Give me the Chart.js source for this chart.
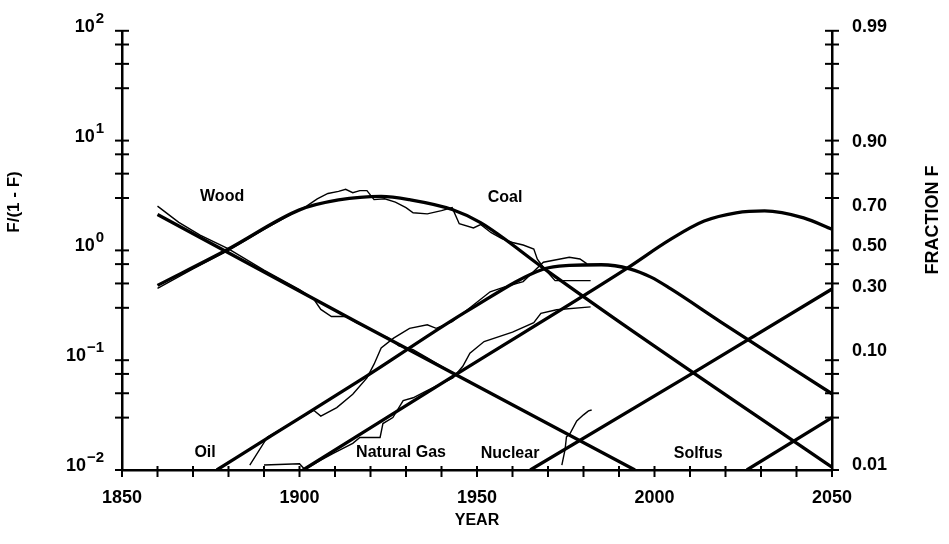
<!DOCTYPE html>
<html>
<head>
<meta charset="utf-8">
<script src="https://cdn.jsdelivr.net/npm/chart.js@4.4.1/dist/chart.umd.min.js"></script>
<style>
  html, body { margin: 0; padding: 0; background: #fff; }
</style>
</head>
<body>
<canvas id="trendChart" width="949" height="544"></canvas>
<script>
// fitted substitution curves (thick lines)
const woodFitYears = [1860, 1916, 1994.5];
const woodFitValues = [2.12, 0.224, 0.010];

const coalFitYears = [1860, 1880, 1900, 1911, 1923, 1931, 1943, 1951, 1969, 1990, 2050];
const coalFitValues = [0.48, 1.03, 2.34, 2.88, 3.11, 2.90, 2.36, 1.79, 0.68, 0.225, 0.0106];

const oilFitYears = [1876.7, 1893, 1919, 1948, 1969, 1976, 1985, 1993, 1999, 2004.5, 2018.5, 2050];
const oilFitValues = [0.01, 0.0214, 0.072, 0.29, 0.68, 0.73, 0.74, 0.68, 0.571, 0.448, 0.225, 0.0494];

const gasFitYears = [1901, 1944, 1992, 2004.5, 2014, 2023, 2031, 2042, 2050];
const gasFitValues = [0.01, 0.074, 0.679, 1.26, 1.85, 2.20, 2.29, 1.98, 1.56];

const nuclearFitYears = [1965, 2011, 2050];
const nuclearFitValues = [0.01, 0.077, 0.445];

const solfusFitYears = [2026, 2050];
const solfusFitValues = [0.01, 0.030];

// historical data (thin lines)
const woodDataYears = [1860, 1866, 1872, 1880, 1890, 1900, 1904, 1906, 1909, 1913, 1916, 1920, 1925, 1928, 1932, 1936, 1940, 1944, 1948];
const woodDataValues = [2.53, 1.80, 1.38, 1.03, 0.66, 0.44, 0.36, 0.29, 0.25, 0.25, 0.22, 0.19, 0.16, 0.135, 0.125, 0.105, 0.088, 0.074, 0.064];

const coalDataYears = [1860, 1870, 1880, 1890, 1900, 1902, 1905, 1908, 1911, 1913, 1915, 1917, 1919, 1921, 1924, 1927, 1930, 1932, 1936, 1940, 1943, 1945, 1949, 1951, 1954, 1957, 1960, 1963, 1966, 1967, 1969, 1972, 1982];
const coalDataValues = [0.45, 0.68, 1.0, 1.55, 2.35, 2.53, 2.95, 3.3, 3.45, 3.6, 3.35, 3.5, 3.5, 2.9, 2.95, 2.75, 2.45, 2.2, 2.15, 2.3, 2.45, 1.75, 1.6, 1.72, 1.45, 1.28, 1.18, 1.12, 1.03, 0.83, 0.68, 0.53, 0.53];

const oilDataYears = [1886, 1891, 1898, 1904, 1906, 1910.5, 1915, 1919, 1921, 1923, 1926.5, 1931, 1936, 1938.5, 1943, 1948, 1953.7, 1957.4, 1963, 1968.7, 1976, 1979, 1981];
const oilDataValues = [0.0111, 0.020, 0.027, 0.035, 0.031, 0.037, 0.049, 0.069, 0.092, 0.129, 0.159, 0.195, 0.21, 0.195, 0.225, 0.30, 0.42, 0.46, 0.52, 0.78, 0.865, 0.835, 0.753];

const gasDataYears = [1890, 1900, 1901.5, 1906, 1909.5, 1915, 1917, 1922.7, 1923.5, 1926.3, 1929.2, 1932, 1935.8, 1943.2, 1946, 1948, 1952, 1960, 1966, 1968, 1972.4, 1982];
const gasDataValues = [0.0111, 0.0114, 0.0101, 0.0123, 0.0142, 0.0175, 0.0198, 0.0198, 0.0265, 0.030, 0.0428, 0.0455, 0.0526, 0.069, 0.088, 0.116, 0.148, 0.18, 0.22, 0.267, 0.288, 0.306];

const nuclearDataYears = [1973.9, 1974.8, 1975.2, 1976.2, 1978.1, 1980, 1981.4, 1982.3];
const nuclearDataValues = [0.0111, 0.0153, 0.020, 0.0215, 0.028, 0.0318, 0.0345, 0.0352];

// axes
const yTickValues = [100, 75, 50, 30, 10, 7.5, 5, 3, 1, 0.75, 0.5, 0.3, 0.1, 0.075, 0.05, 0.03, 0.01];
const fractionLabels = [0.01, 0.10, 0.30, 0.50, 0.70, 0.90, 0.99];

// curve names, anchored in data units (year, F/(1-F))
const curveNames = [
    { text: 'Wood', year: 1878.2, value: 3.06 },
    { text: 'Coal', year: 1957.9, value: 3.0 },
    { text: 'Oil', year: 1873.4, value: 0.0145 },
    { text: 'Natural Gas', year: 1928.6, value: 0.0145 },
    { text: 'Nuclear', year: 1959.3, value: 0.0142 },
    { text: 'Solfus', year: 2012.3, value: 0.0142 }
];

const FONT = '"Liberation Sans", Arial, Helvetica, sans-serif';

function pts(xs, ys) {
    return xs.map((x, i) => ({ x: x, y: ys[i] }));
}

function fitSet(label, xs, ys, curved) {
    return {
        label: label,
        data: pts(xs, ys),
        borderColor: '#000',
        borderWidth: 3.3,
        pointRadius: 0,
        fill: false,
        tension: 0,
        cubicInterpolationMode: curved ? 'monotone' : 'default'
    };
}

function dataSet(label, xs, ys) {
    return {
        label: label,
        data: pts(xs, ys),
        borderColor: '#000',
        borderWidth: 1.4,
        pointRadius: 0,
        fill: false,
        tension: 0
    };
}

const sets = [
    fitSet('Wood', woodFitYears, woodFitValues, false),
    fitSet('Coal', coalFitYears, coalFitValues, true),
    fitSet('Oil', oilFitYears, oilFitValues, true),
    fitSet('Natural Gas', gasFitYears, gasFitValues, true),
    fitSet('Nuclear', nuclearFitYears, nuclearFitValues, false),
    fitSet('Solfus', solfusFitYears, solfusFitValues, false),
    dataSet('Wood data', woodDataYears, woodDataValues),
    dataSet('Coal data', coalDataYears, coalDataValues),
    dataSet('Oil data', oilDataYears, oilDataValues),
    dataSet('Gas data', gasDataYears, gasDataValues),
    dataSet('Nuclear data', nuclearDataYears, nuclearDataValues)
];

// cross ticks, 10^n labels, rotated titles and curve names
const axisDecor = {
    id: 'axisDecor',
    afterDraw: (chart) => {
        const c = chart.ctx;
        const area = chart.chartArea;
        const xs = chart.scales.x;
        const ys = chart.scales.y;
        c.save();
        c.strokeStyle = '#000';
        c.fillStyle = '#000';
        c.lineWidth = 2;

        ys.ticks.forEach(t => {
            const py = ys.getPixelForValue(t.value);
            [area.left, area.right].forEach(ax => {
                c.beginPath();
                c.moveTo(ax - 7, py);
                c.lineTo(ax + 7, py);
                c.stroke();
            });
        });
        xs.ticks.forEach(t => {
            const px = xs.getPixelForValue(t.value);
            c.beginPath();
            c.moveTo(px, area.bottom - 4);
            c.lineTo(px, area.bottom + 7);
            c.stroke();
        });

        c.textAlign = 'right';
        c.textBaseline = 'alphabetic';
        ys.ticks.forEach(t => {
            const e = Math.log10(t.value);
            if (Math.abs(e - Math.round(e)) > 1e-9) return;
            const py = ys.getPixelForValue(t.value);
            const exp = String(Math.round(e)).replace('-', '\u2212');
            const right = area.left - 18;
            c.font = 'bold 15px ' + FONT;
            c.fillText(exp, right, py - 8);
            const w = c.measureText(exp).width;
            c.font = 'bold 18px ' + FONT;
            c.fillText('10', right - w - 1, py + 1);
        });

        c.textAlign = 'center';
        c.textBaseline = 'middle';
        c.font = 'bold 17px ' + FONT;
        c.save();
        c.translate(14, 202);
        c.rotate(-Math.PI / 2);
        c.fillText('F/(1 - F)', 0, 0);
        c.restore();
        c.font = 'bold 18px ' + FONT;
        c.save();
        c.translate(933, 220);
        c.rotate(-Math.PI / 2);
        c.fillText('FRACTION F', 0, 0);
        c.restore();

        c.font = 'bold 16px ' + FONT;
        curveNames.forEach(n => {
            c.fillText(n.text, xs.getPixelForValue(n.year), ys.getPixelForValue(n.value));
        });
        c.restore();
    }
};

const whiteBg = {
    id: 'whiteBg',
    beforeDraw: (chart) => {
        const c = chart.ctx;
        c.save();
        c.fillStyle = '#fff';
        c.fillRect(0, 0, chart.width, chart.height);
        c.restore();
    }
};

Chart.defaults.font.family = FONT;
Chart.defaults.font.weight = 'bold';
Chart.defaults.color = '#000';

new Chart(document.getElementById('trendChart'), {
    type: 'line',
    data: { datasets: sets },
    options: {
        responsive: false,
        animation: false,
        events: [],
        layout: { padding: { top: 26, left: 0, right: 0, bottom: 0 } },
        plugins: {
            legend: { display: false },
            tooltip: { enabled: false }
        },
        scales: {
            x: {
                type: 'linear',
                position: 'bottom',
                min: 1850,
                max: 2050,
                afterFit: (s) => { s.height = 74; },
                grid: { display: false, drawTicks: false },
                border: { display: true, color: '#000', width: 2.5 },
                ticks: {
                    stepSize: 10,
                    autoSkip: false,
                    maxRotation: 0,
                    padding: 17,
                    font: { size: 18, weight: 'bold' },
                    callback: (v) => (v % 50 === 0 ? String(v) : '')
                },
                title: {
                    display: true,
                    text: 'YEAR',
                    font: { size: 16, weight: 'bold' },
                    padding: { top: 0, bottom: 14 }
                }
            },
            y: {
                type: 'logarithmic',
                position: 'left',
                min: 0.01,
                max: 100,
                afterFit: (s) => { s.width = 122; },
                afterBuildTicks: (s) => { s.ticks = yTickValues.map(v => ({ value: v })); },
                grid: { display: false, drawTicks: false },
                border: { display: true, color: '#000', width: 2.5 },
                ticks: { display: false }
            },
            yF: {
                type: 'logarithmic',
                position: 'right',
                min: 0.01,
                max: 100,
                afterFit: (s) => { s.width = 117; },
                afterBuildTicks: (s) => { s.ticks = fractionLabels.map(f => ({ value: f / (1 - f) })); },
                grid: { display: false, drawTicks: false },
                border: { display: true, color: '#000', width: 2.5 },
                ticks: {
                    padding: 20,
                    labelOffset: -4,
                    font: { size: 18, weight: 'bold' },
                    callback: (v) => (v / (1 + v)).toFixed(2)
                }
            }
        }
    },
    plugins: [whiteBg, axisDecor]
});
</script>
</body>
</html>
